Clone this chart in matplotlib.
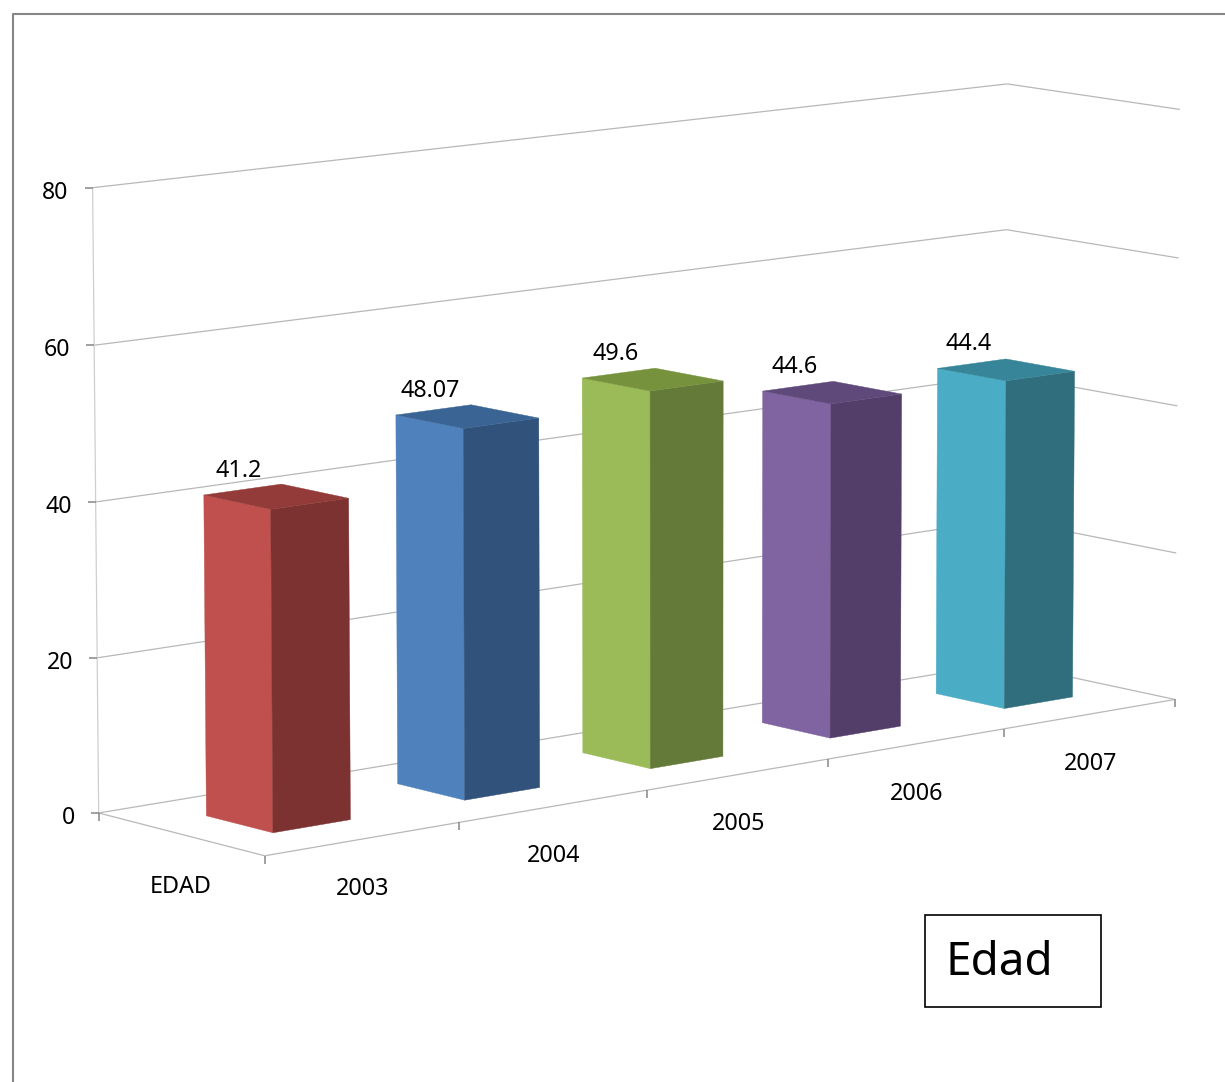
import numpy as np
import matplotlib
matplotlib.use("Agg")
import matplotlib.pyplot as plt
from matplotlib.patches import Polygon, Rectangle

plt.rcParams['font.family'] = ['Noto Sans', 'DejaVu Sans']

# Chart data
years = ["2003", "2004", "2005", "2006", "2007"]
ages = [41.2, 48.07, 49.6, 44.6, 44.4]
age_labels = ["41.2", "48.07", "49.6", "44.6", "44.4"]
series_name = "EDAD"
box_title = "Edad"
y_ticks = [0, 20, 40, 60, 80]

# Face colours of each column: lit side, shaded side, top
lit = ["#C0504D", "#4F81BD", "#9BBB59", "#8064A2", "#4BACC6"]
shade = ["#7B3230", "#31527A", "#647A39", "#533E6A", "#306E7E"]
top = ["#933B39", "#3A6494", "#76923C", "#5F497A", "#378599"]

GRID = "#B8B8B8"
TICK = "#868686"
FRAME = "#868686"
GAP = 0.3  # free space on each side of a column, as a share of its cell

# Scene anchors (cell, depth, value) -> canvas position, used to solve the camera
anchors = [
    ((0, 0, 0), (265, 857)), ((5, 0, 0), (1174, 700)),
    ((0, 1, 0), (99, 813)), ((5, 1, 0), (1005, 662)),
    ((0, 1, 20), (97, 659)), ((0, 1, 40), (96, 503)),
    ((0, 1, 60), (94, 347)), ((0, 1, 80), (92, 190)),
    ((5, 1, 60), (1006, 229)), ((5, 1, 80), (1007, 83)),
    ((5, 0, 20), (1176, 553)), ((5, 0, 40), (1177, 407)),
    ((5, 0, 60), (1179, 259)), ((5, 0, 80), (1181, 110)),
    ((0.3, 0.7, 41.2), (204, 492)), ((0.3, 0.3, 41.2), (271, 506)),
    ((0.7, 0.3, 41.2), (348, 495)), ((0.3, 0.3, 0), (273, 834)),
]


def solve_camera(pairs):
    rows = []
    for (x, d, z), (u, v) in pairs:
        w = [x, d, z, 1]
        rows.append(w + [0, 0, 0, 0] + [-u * c for c in w])
        rows.append([0, 0, 0, 0] + w + [-v * c for c in w])
    A = np.array(rows, dtype=float)
    scale = np.array([5, 1, 80, 1] * 3, dtype=float)
    _, _, vt = np.linalg.svd(A * scale)
    return (vt[-1] * scale).reshape(3, 4)


CAMERA = solve_camera(anchors)


def project(x, d, z):
    p = CAMERA @ np.array([x, d, z, 1.0])
    return p[0] / p[2], p[1] / p[2]


fig = plt.figure(figsize=(12.25, 10.82), dpi=100, facecolor="white")
ax = fig.add_axes([0, 0, 1, 1])
ax.set_xlim(0, 1225)
ax.set_ylim(1082, 0)
ax.axis("off")


def line(a, b, color=GRID, lw=0.9, z=1):
    (x0, y0), (x1, y1) = a, b
    ax.plot([x0, x1], [y0, y1], color=color, lw=lw, solid_capstyle="butt", zorder=z)


# Outer chart frame, running off the right and bottom of the canvas
ax.plot([13, 13, 1225], [1082, 14, 14], color=FRAME, lw=1.5, zorder=1)

n = len(years)

# Walls and floor
for v in y_ticks:
    line(project(0, 1, v), project(n, 1, v))
    line(project(n, 1, v), project(n, 0, v))
line(project(0, 1, 0), project(0, 1, y_ticks[-1]), color="#CFCFCF")
line(project(0, 1, 0), project(0, 0, 0))
line(project(0, 0, 0), project(n, 0, 0))

# Value axis ticks and labels
for v in y_ticks:
    x, y = project(0, 1, v)
    line((x - 8, y), (x, y), color=TICK, lw=1.1)
    ax.text(x - 24, y + 5, str(v), ha="right", va="center", fontsize=16.6, color="black")

# Floor ticks and labels
for i in range(n + 1):
    x, y = project(i, 0, 0)
    line((x, y), (x, y + 8), color=TICK, lw=1.1)
x, y = project(0, 1, 0)
line((x, y), (x, y + 8), color=TICK, lw=1.1)

for i, year in enumerate(years):
    x, y = project(i + 0.5, 0, 0)
    ax.text(x, y + 50, year, ha="center", va="center", fontsize=16.8, color="black")
x, y = project(0, 0.5, 0)
ax.text(x, y + 53, series_name, ha="center", va="center", fontsize=16.8, color="black")

# Columns
for i, value in enumerate(ages):
    x0, x1 = i + GAP, i + 1 - GAP
    d0, d1 = GAP, 1 - GAP
    left_face = [project(x0, d1, 0), project(x0, d0, 0), project(x0, d0, value), project(x0, d1, value)]
    right_face = [project(x0, d0, 0), project(x1, d0, 0), project(x1, d0, value), project(x0, d0, value)]
    top_face = [project(x0, d0, value), project(x1, d0, value), project(x1, d1, value), project(x0, d1, value)]
    for pts, col in ((left_face, lit[i]), (right_face, shade[i]), (top_face, top[i])):
        ax.add_patch(Polygon(pts, closed=True, facecolor=col, edgecolor=col, lw=0.3, zorder=3))
    cx, cy = project(i + 0.5, 0.5, value)
    ax.text(cx - 37, cy - 26, age_labels[i], ha="center", va="center", fontsize=16.8,
            color="black", zorder=4)

# Caption box
ax.add_patch(Rectangle((925, 915), 176, 92, facecolor="white", edgecolor="black", lw=1.2, zorder=5))
ax.text(946, 963, box_title, ha="left", va="center", fontsize=33, color="black", zorder=6)

fig.savefig("out.png", dpi=100, facecolor="white")
